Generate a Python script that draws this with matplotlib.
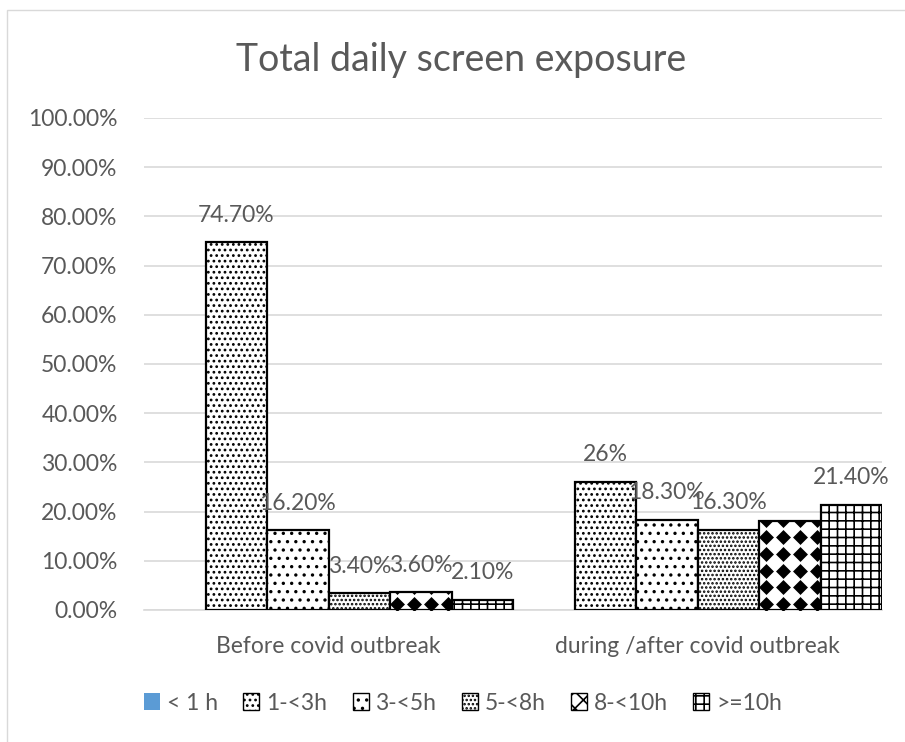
import matplotlib
matplotlib.use("Agg")
import matplotlib.pyplot as plt
import numpy as np
from matplotlib.patches import Patch, Rectangle

plt.rcParams["font.family"] = ["Lato", "DejaVu Sans"]
plt.rcParams["hatch.linewidth"] = 1.2

TEXT = "#595959"
GRID = "#d9d9d9"

categories = ["Before covid outbreak", "during /after covid outbreak"]
series = ["< 1 h", "1-<3h", "3-<5h", "5-<8h", "8-<10h", ">=10h"]
before = [0.0, 74.7, 16.2, 3.4, 3.6, 2.1]
during = [0.0, 26.0, 18.3, 16.3, 18.0, 21.4]
labels_before = [None, "74.70%", "16.20%", "3.40%", "3.60%", "2.10%"]
labels_during = [None, "26%", "18.30%", "16.30%", None, "21.40%"]
yticks = np.arange(0, 101, 10)

hatches = [None, "...", "..", "....", None, "++"]
facecolors = ["#5b9bd5", "white", "white", "white", "white", "white"]
FS = 16.5

fig = plt.figure(figsize=(9.05, 7.42), dpi=100)
ax = fig.add_axes([144 / 905, 1 - 610 / 742, 738 / 905, 492 / 742])

# outer chart border
fig.patches.append(Rectangle((7 / 905, -0.01), 1.0, 1 - 10 / 742 + 0.01,
                             transform=fig.transFigure, fill=False,
                             edgecolor=GRID, linewidth=1))

n = len(series)
width = 1.0 / n
x = np.arange(len(categories))

for i, name in enumerate(series):
    vals = [before[i], during[i]]
    pos = x - 0.5 + width * (i + 0.5)
    ec = "none" if i == 0 else "black"
    bars = ax.bar(pos, vals, width=width, color=facecolors[i], edgecolor=ec,
                  linewidth=1.6, hatch=hatches[i], zorder=3)
    if name == "8-<10h":
        # black diamond pattern
        for b in bars:
            x0, y0 = b.get_x(), b.get_y()
            w, h = b.get_width(), b.get_height()
            xs = np.arange(x0 + 0.02, x0 + w, 0.046)
            ys = np.arange(y0 + 1.2, y0 + h + 1.7, 3.4)
            gx, gy = np.meshgrid(xs, ys)
            sc = ax.scatter(gx.ravel(), gy.ravel(), marker="D", s=58,
                            color="black", linewidths=0, zorder=4)
            sc.set_clip_path(b)
    labs = [labels_before[i], labels_during[i]]
    for p, v, lab in zip(pos, vals, labs):
        if lab:
            ax.annotate(lab, (p, v), xytext=(0, 12), textcoords="offset points",
                        ha="center", va="bottom", fontsize=FS, color=TEXT,
                        zorder=5)

ax.set_xlim(-0.5, 1.5)
ax.set_ylim(0, 100)
ax.set_yticks(yticks)
ax.set_yticklabels([f"{t:.2f}%" for t in yticks])
ax.set_xticks(x)
ax.set_xticklabels(categories)
ax.tick_params(axis="both", length=0, labelsize=FS, labelcolor=TEXT)
ax.tick_params(axis="y", pad=19)
ax.tick_params(axis="x", pad=19)
ax.yaxis.grid(True, color=GRID, linewidth=1.2, zorder=0)
for s in ["top", "right", "left"]:
    ax.spines[s].set_visible(False)
ax.spines["bottom"].set_color(GRID)
ax.spines["bottom"].set_linewidth(1.2)

fig.text(461 / 905, 1 - 60 / 742, "Total daily screen exposure",
         ha="center", va="center", fontsize=27, color=TEXT)

handles = []
for i, name in enumerate(series):
    if i == 0:
        handles.append(Patch(facecolor=facecolors[0], edgecolor="none", label=name))
    elif name == "8-<10h":
        handles.append(Patch(facecolor="white", edgecolor="black", hatch="xx",
                             label=name))
    else:
        handles.append(Patch(facecolor="white", edgecolor="black",
                             hatch=hatches[i], label=name))
fig.legend(handles=handles, loc="center", bbox_to_anchor=(463 / 905, 1 - 703 / 742),
           ncol=6, frameon=False, fontsize=FS, labelcolor=TEXT,
           handlelength=0.7, handleheight=0.7, handletextpad=0.3,
           columnspacing=1.1)

fig.savefig("out.png", dpi=100)
